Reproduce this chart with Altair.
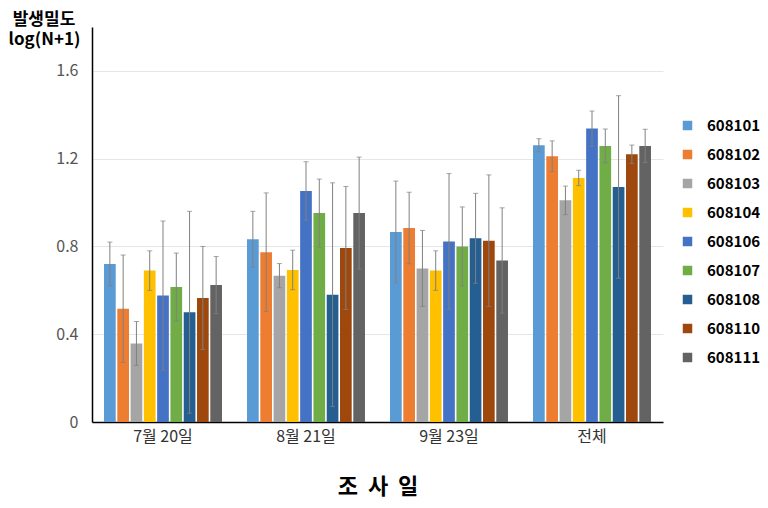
import altair as alt
import pandas as pd

groups = ["7월 20일", "8월 21일", "9월 23일", "전체"]
series = ["608101", "608102", "608103", "608104", "608106", "608107", "608108", "608110", "608111"]
colors = ["#5B9BD5", "#ED7D31", "#A5A5A5", "#FFC000", "#4472C4", "#70AD47", "#255E91", "#9E480E", "#636363"]

# mean values per group (rows) per series (columns)
values = [
    [0.72, 0.516, 0.358, 0.69, 0.576, 0.615, 0.50, 0.565, 0.624],
    [0.833, 0.774, 0.667, 0.693, 1.053, 0.952, 0.58, 0.793, 0.952],
    [0.866, 0.884, 0.70, 0.69, 0.822, 0.80, 0.837, 0.826, 0.736],
    [1.261, 1.211, 1.01, 1.112, 1.337, 1.258, 1.071, 1.22, 1.258],
]
# error half-widths
errors = [
    [0.10, 0.245, 0.10, 0.09, 0.34, 0.155, 0.46, 0.235, 0.13],
    [0.127, 0.27, 0.055, 0.09, 0.133, 0.155, 0.51, 0.28, 0.255],
    [0.232, 0.163, 0.173, 0.09, 0.31, 0.18, 0.205, 0.30, 0.24],
    [0.03, 0.07, 0.065, 0.035, 0.08, 0.077, 0.416, 0.042, 0.076],
]

rows = []
for gi, g in enumerate(groups):
    for si, s in enumerate(series):
        v = values[gi][si]
        e = errors[gi][si]
        rows.append({"group": g, "series": s, "value": v, "lo": v - e, "hi": v + e})
df = pd.DataFrame(rows)

FONT = "Noto Sans CJK KR"
NB = "\u00a0"

x_enc = alt.X(
    "group:N",
    sort=groups,
    scale=alt.Scale(paddingInner=0.175, paddingOuter=0.084),
    axis=alt.Axis(
        title=f"조{NB}{NB}사{NB}{NB}일",
        titleFontSize=22,
        titleFontWeight="bold",
        titleColor="#000000",
        titlePadding=32,
        labelAngle=0,
        labelFontSize=16,
        labelColor="#333333",
        labelPadding=6,
        ticks=False,
        domainColor="#000000",
        domainWidth=1.5,
        grid=False,
    ),
)
xoff = alt.XOffset("series:N", sort=series, scale=alt.Scale(paddingInner=0.12, paddingOuter=0))

y_axis = alt.Axis(
    title="log(N+1)",
    titleAngle=0,
    titleAlign="center",
    titleBaseline="middle",
    titleX=-48,
    titleY=12,
    titleFontSize=17,
    titleFontWeight="bold",
    titleColor="#000000",
    values=[0, 0.4, 0.8, 1.2, 1.6],
    format=".1~f",
    labelFontSize=16,
    labelColor="#555555",
    labelPadding=14,
    ticks=False,
    domainColor="#000000",
    domainWidth=1.5,
    gridColor="#e6e6e6",
    gridWidth=1,
)

bars = alt.Chart(df).mark_bar().encode(
    x=x_enc,
    xOffset=xoff,
    y=alt.Y("value:Q", scale=alt.Scale(domain=[0, 1.8], nice=False), axis=y_axis),
    color=alt.Color(
        "series:N",
        sort=series,
        scale=alt.Scale(domain=series, range=colors),
        legend=alt.Legend(
            title=None,
            orient="none",
            legendX=588,
            legendY=91,
            symbolType="square",
            symbolSize=90,
            symbolStrokeWidth=0,
            labelFontSize=15,
            labelFontWeight="bold",
            labelColor="#000000",
            labelOffset=12,
            rowPadding=13,
            padding=0,
        ),
    ),
)

rule = alt.Chart(df).mark_rule(color="#808080", strokeWidth=1).encode(
    x=alt.X("group:N", sort=groups), xOffset=xoff, y="lo:Q", y2="hi:Q"
)
cap_hi = alt.Chart(df).mark_tick(color="#808080", thickness=1, size=5).encode(
    x=alt.X("group:N", sort=groups), xOffset=xoff, y="hi:Q"
)
cap_lo = alt.Chart(df).mark_tick(color="#808080", thickness=1, size=5).encode(
    x=alt.X("group:N", sort=groups), xOffset=xoff, y="lo:Q"
)

chart = (
    alt.layer(bars, rule, cap_hi, cap_lo)
    .properties(
        width=571,
        height=395,
        autosize=alt.AutoSizeParams(type="none"),
        padding={"left": 84, "top": 19, "right": 97, "bottom": 78},
        title=alt.TitleParams(
            text="발생밀도",
            anchor="start",
            frame="group",
            align="center",
            dx=-48,
            offset=-2,
            fontSize=17,
            fontWeight="bold",
            color="#000000",
        ),
    )
    .configure(font=FONT)
    .configure_view(stroke=None)
)

chart.save("out.html", embed_options={"renderer": "svg", "actions": False})
